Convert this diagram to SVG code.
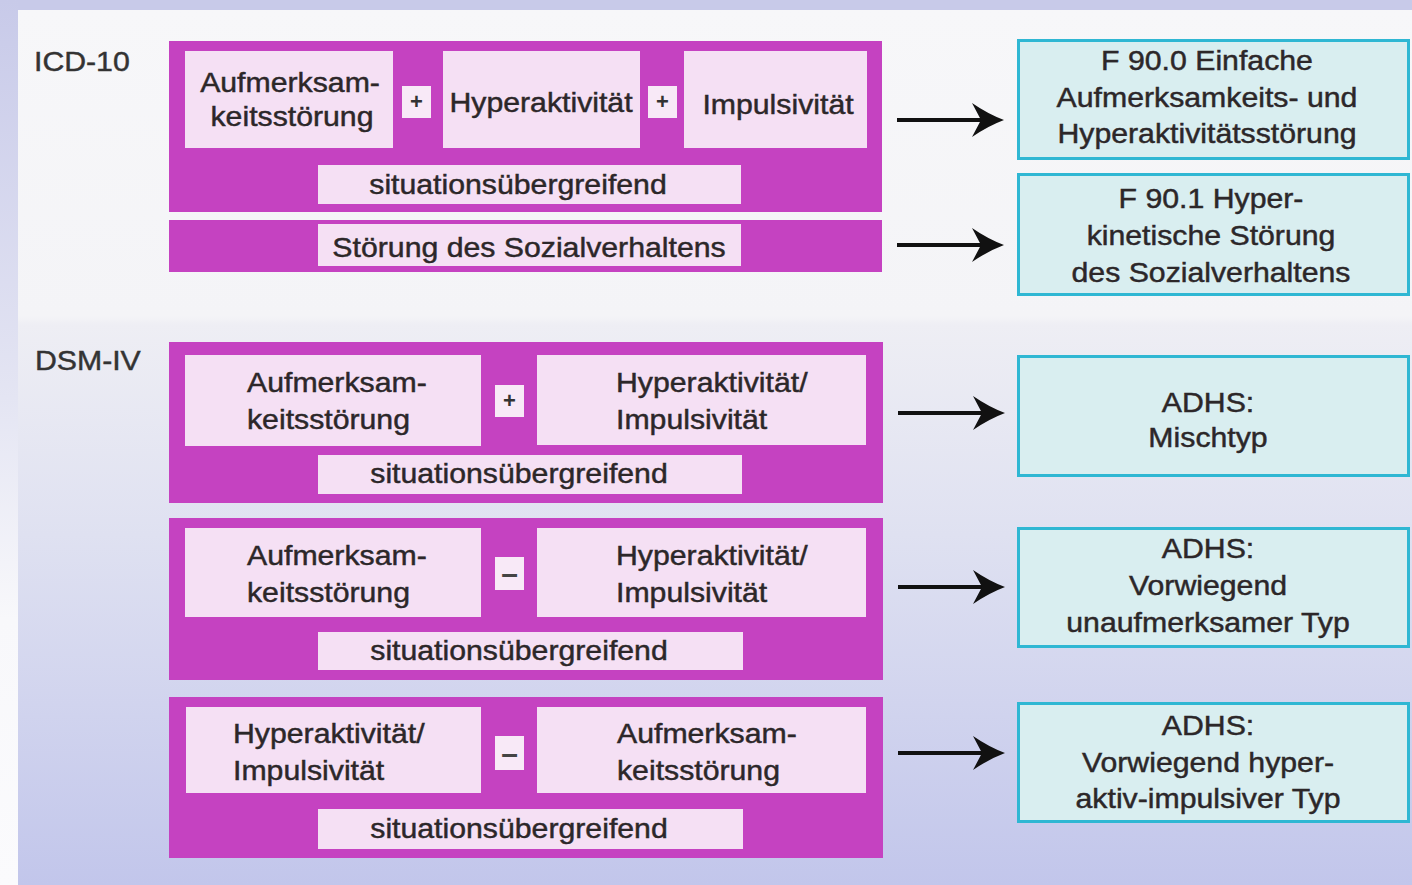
<svg xmlns="http://www.w3.org/2000/svg" width="1412" height="885" viewBox="0 0 1412 885">
<defs>
<linearGradient id="leftStrip" x1="0" y1="0" x2="0" y2="1">
<stop offset="0" stop-color="#c8cae9"/>
<stop offset="0.45" stop-color="#e4e5f3"/>
<stop offset="0.7" stop-color="#f8f8fb"/>
<stop offset="1" stop-color="#fbfbfd"/>
</linearGradient>
<linearGradient id="panel" x1="0" y1="0" x2="0" y2="1">
<stop offset="0" stop-color="#f7f7f9"/>
<stop offset="0.35" stop-color="#f4f4f7"/>
<stop offset="0.36" stop-color="#eeeef4"/>
<stop offset="0.6" stop-color="#dfe1f1"/>
<stop offset="1" stop-color="#c2c6eb"/>
</linearGradient>
<marker id="arrowhead" markerUnits="userSpaceOnUse" viewBox="0 0 32 36" refX="17" refY="18" markerWidth="32" markerHeight="36" orient="auto">
<path d="M0,1 Q16,12 32,18 Q16,24 0,35 L9,18 Z" fill="#111"/>
</marker>
<style>
.mag{fill:#c542c1}
.pink{fill:#f5e0f4}
.op{fill:#f8e9f7}
.cyan{fill:#d9eef0;stroke:#2fb7d3;stroke-width:3}
.t{font-family:"Liberation Sans",Arial,sans-serif;font-size:27.5px;fill:#2c2729;stroke:#2c2729;stroke-width:0.45}
.m{text-anchor:middle}
.lbl{font-family:"Liberation Sans",Arial,sans-serif;font-size:28px;fill:#333;stroke:#333;stroke-width:0.45}
.opt{font-family:"Liberation Sans",Arial,sans-serif;font-size:22px;font-weight:bold;fill:#333;text-anchor:middle}
.mint{font-family:"Liberation Sans",Arial,sans-serif;font-size:30px;font-weight:bold;fill:#444;text-anchor:middle}
.conn{stroke:#111;stroke-width:4;fill:none}
</style>
</defs>

<g id="background">
<rect x="0" y="0" width="1412" height="885" fill="#c8cae9"/>
<rect x="0" y="0" width="18" height="885" fill="url(#leftStrip)"/>
<rect x="18" y="10" width="1394" height="875" fill="url(#panel)"/>
</g>

<g id="label-icd">
<text class="lbl" transform="translate(34,71) scale(1.08,1)">ICD-10</text>
</g>
<g id="label-dsm">
<text class="lbl" transform="translate(35,370) scale(1.08,1)">DSM-IV</text>
</g>

<!-- ICD-10 row 1 -->
<g id="icd-main">
<rect class="mag" x="169" y="41" width="713" height="171"/>
<rect class="pink" x="185" y="51" width="208" height="97"/>
<text class="t m" transform="translate(290,92) scale(1.1,1)">Aufmerksam-</text>
<text class="t m" transform="translate(292,126) scale(1.1,1)">keitsstörung</text>
<rect class="op" x="402" y="86" width="29" height="32"/>
<text class="opt" x="416.5" y="109">+</text>
<rect class="pink" x="443" y="51" width="197" height="97"/>
<text class="t m" transform="translate(541,112) scale(1.1,1)">Hyperaktivität</text>
<rect class="op" x="648" y="86" width="29" height="32"/>
<text class="opt" x="662.5" y="109">+</text>
<rect class="pink" x="684" y="51" width="183" height="97"/>
<text class="t m" transform="translate(778,114) scale(1.1,1)">Impulsivität</text>
<rect class="pink" x="318" y="165" width="423" height="39"/>
<text class="t m" transform="translate(518,194) scale(1.1,1)">situationsübergreifend</text>
</g>

<!-- ICD-10 row 2 -->
<g id="icd-social">
<rect class="mag" x="169" y="220" width="713" height="52"/>
<rect class="pink" x="318" y="224" width="423" height="42"/>
<text class="t m" transform="translate(529,257) scale(1.1,1)">Störung des Sozialverhaltens</text>
</g>

<!-- ICD results -->
<g id="f900">
<rect class="cyan" x="1018.5" y="40.5" width="390" height="118"/>
<text class="t m" transform="translate(1207,70) scale(1.1,1)">F 90.0 Einfache</text>
<text class="t m" transform="translate(1207,107) scale(1.1,1)">Aufmerksamkeits- und</text>
<text class="t m" transform="translate(1207,143) scale(1.1,1)">Hyperaktivitätsstörung</text>
</g>
<g id="f901">
<rect class="cyan" x="1018.5" y="174.5" width="390" height="120"/>
<text class="t m" transform="translate(1211,208) scale(1.1,1)">F 90.1 Hyper-</text>
<text class="t m" transform="translate(1211,245) scale(1.1,1)">kinetische Störung</text>
<text class="t m" transform="translate(1211,282) scale(1.1,1)">des Sozialverhaltens</text>
</g>

<!-- DSM row 1 -->
<g id="dsm-mixed">
<rect class="mag" x="169" y="342" width="714" height="161"/>
<rect class="pink" x="185" y="355" width="296" height="91"/>
<text class="t" transform="translate(247,392) scale(1.1,1)">Aufmerksam-</text>
<text class="t" transform="translate(247,429) scale(1.1,1)">keitsstörung</text>
<rect class="op" x="495" y="385" width="29" height="32"/>
<text class="opt" x="509.5" y="408">+</text>
<rect class="pink" x="537" y="355" width="329" height="90"/>
<text class="t" transform="translate(616,392) scale(1.1,1)">Hyperaktivität/</text>
<text class="t" transform="translate(616,429) scale(1.1,1)">Impulsivität</text>
<rect class="pink" x="318" y="455" width="424" height="39"/>
<text class="t m" transform="translate(519,483) scale(1.1,1)">situationsübergreifend</text>
</g>

<!-- DSM row 2 -->
<g id="dsm-inattentive">
<rect class="mag" x="169" y="518" width="714" height="162"/>
<rect class="pink" x="185" y="528" width="296" height="89"/>
<text class="t" transform="translate(247,565) scale(1.1,1)">Aufmerksam-</text>
<text class="t" transform="translate(247,602) scale(1.1,1)">keitsstörung</text>
<rect class="op" x="495" y="557" width="29" height="33"/>
<text class="mint" x="509.5" y="584">–</text>
<rect class="pink" x="537" y="528" width="329" height="89"/>
<text class="t" transform="translate(616,565) scale(1.1,1)">Hyperaktivität/</text>
<text class="t" transform="translate(616,602) scale(1.1,1)">Impulsivität</text>
<rect class="pink" x="318" y="632" width="425" height="38"/>
<text class="t m" transform="translate(519,660) scale(1.1,1)">situationsübergreifend</text>
</g>

<!-- DSM row 3 -->
<g id="dsm-hyperactive">
<rect class="mag" x="169" y="697" width="714" height="161"/>
<rect class="pink" x="186" y="707" width="295" height="86"/>
<text class="t" transform="translate(233,743) scale(1.1,1)">Hyperaktivität/</text>
<text class="t" transform="translate(233,780) scale(1.1,1)">Impulsivität</text>
<rect class="op" x="495" y="736" width="29" height="34"/>
<text class="mint" x="509.5" y="764">–</text>
<rect class="pink" x="537" y="707" width="329" height="86"/>
<text class="t" transform="translate(617,743) scale(1.1,1)">Aufmerksam-</text>
<text class="t" transform="translate(617,780) scale(1.1,1)">keitsstörung</text>
<rect class="pink" x="318" y="809" width="425" height="40"/>
<text class="t m" transform="translate(519,838) scale(1.1,1)">situationsübergreifend</text>
</g>

<!-- DSM results -->
<g id="adhs-mischtyp">
<rect class="cyan" x="1018.5" y="356.5" width="390" height="119"/>
<text class="t m" transform="translate(1208,412) scale(1.1,1)">ADHS:</text>
<text class="t m" transform="translate(1208,447) scale(1.1,1)">Mischtyp</text>
</g>
<g id="adhs-unaufmerksam">
<rect class="cyan" x="1018.5" y="528.5" width="390" height="118"/>
<text class="t m" transform="translate(1208,558) scale(1.1,1)">ADHS:</text>
<text class="t m" transform="translate(1208,595) scale(1.1,1)">Vorwiegend</text>
<text class="t m" transform="translate(1208,632) scale(1.1,1)">unaufmerksamer Typ</text>
</g>
<g id="adhs-hyperaktiv">
<rect class="cyan" x="1018.5" y="703.5" width="390" height="118"/>
<text class="t m" transform="translate(1208,735) scale(1.1,1)">ADHS:</text>
<text class="t m" transform="translate(1208,772) scale(1.1,1)">Vorwiegend hyper-</text>
<text class="t m" transform="translate(1208,808) scale(1.1,1)">aktiv-impulsiver Typ</text>
</g>

<g id="connectors">
<line class="conn" x1="897" y1="120" x2="989" y2="120" marker-end="url(#arrowhead)"/>
<line class="conn" x1="897" y1="245" x2="989" y2="245" marker-end="url(#arrowhead)"/>
<line class="conn" x1="898" y1="413" x2="990" y2="413" marker-end="url(#arrowhead)"/>
<line class="conn" x1="898" y1="587" x2="990" y2="587" marker-end="url(#arrowhead)"/>
<line class="conn" x1="898" y1="753" x2="990" y2="753" marker-end="url(#arrowhead)"/>
</g>
</svg>
